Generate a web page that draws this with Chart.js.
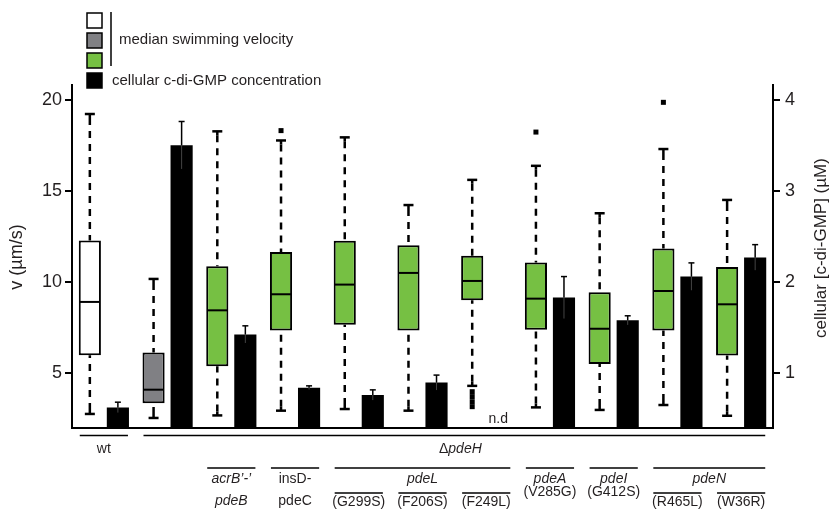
<!DOCTYPE html>
<html>
<head>
<meta charset="utf-8">
<script src="https://cdn.jsdelivr.net/npm/chart.js@4.4.1/dist/chart.umd.min.js"></script>
<style>
  html, body { margin: 0; padding: 0; background: #fff; }
  #wrap { width: 829px; height: 512px; position: relative; }
</style>
</head>
<body>
<div id="wrap"><canvas id="chart"></canvas></div>
<script>
// strains, in plot order
const categories = ['wt', 'ΔpdeH', "acrB'-' pdeB", 'insD-pdeC', 'pdeL G299S', 'pdeL F206S',
  'pdeL F249L', 'pdeA V285G', 'pdeI G412S', 'pdeN R465L', 'pdeN W36R'];

// swimming velocity box plots (µm/s)
const whiskerLow  = [2.77, 2.55, 2.69, 2.95, 3.04, 2.95, 4.31, 3.13, 2.99, 3.26, 2.67];
const q1          = [5.99, 3.35, 5.39, 7.35, 7.66, 7.35, 9.00, 7.39, 5.51, 7.35, 5.97];
const median      = [8.91, 4.10, 8.45, 9.33, 9.86, 10.50, 10.06, 9.09, 7.44, 9.51, 8.78];
const q3          = [12.28, 6.14, 10.87, 11.64, 12.26, 12.02, 11.44, 11.07, 9.44, 11.84, 10.83];
const whiskerHigh = [19.21, 10.17, 18.26, 17.76, 17.93, 14.22, 15.60, 16.37, 13.77, 17.29, 14.50];
const outliers    = [[], [], [], [18.3], [], [], [3.99, 3.72, 3.44, 3.17], [18.22], [], [19.85], []];

// cellular c-di-GMP (µM), null = not determined
const concentration    = [0.626, 3.50, 1.426, 0.842, 0.762, 0.898, null, 1.83, 1.58, 2.06, 2.27];
const concentrationErr = [0.057, 0.26, 0.094, 0.02, 0.056, 0.082, null, 0.23, 0.05, 0.15, 0.14];

const leftTicks = [5, 10, 15, 20];
const rightTicks = [1, 2, 3, 4];

const FONT = "'Liberation Sans', Arial, sans-serif";
const TEXT = '#231f20';
const GREEN = '#76c043';
const GRAY = '#808084';
const boxColors = categories.map((c, i) => i === 0 ? '#ffffff' : i === 1 ? GRAY : GREEN);

Chart.defaults.font.family = FONT;
Chart.defaults.color = TEXT;

function catCenter(chart, i) {
  return chart.scales.x.getPixelForValue(i);
}

// left edge of the box and right edge of the bar for a category
function spanOf(chart, from, to) {
  const b0 = chart.getDatasetMeta(0).data[from];
  const b1 = chart.getDatasetMeta(0).data[to];
  const left = b0.x - b0.width / 2 + 1;
  const right = 2 * catCenter(chart, to) - b1.x + b1.width / 2 - 1;
  return [left, right];
}

function hline(ctx, x0, x1, y) {
  ctx.beginPath();
  ctx.moveTo(x0, y);
  ctx.lineTo(x1, y);
  ctx.stroke();
}

const extras = {
  id: 'extras',
  afterDatasetsDraw(chart) {
    const ctx = chart.ctx;
    const y = chart.scales.y;
    const y2 = chart.scales.y2;
    ctx.save();
    ctx.strokeStyle = '#000';
    ctx.fillStyle = '#000';

    // whiskers, caps, medians and outliers
    chart.getDatasetMeta(0).data.forEach((el, i) => {
      const x = el.x;
      const hw = el.width / 2;
      const yHi = y.getPixelForValue(whiskerHigh[i]);
      const yLo = y.getPixelForValue(whiskerLow[i]);
      ctx.lineWidth = 2.5;
      ctx.setLineDash([7, 6]);
      ctx.beginPath();
      ctx.moveTo(x, yHi + 4);
      ctx.lineTo(x, y.getPixelForValue(q3[i]));
      ctx.moveTo(x, yLo - 4);
      ctx.lineTo(x, y.getPixelForValue(q1[i]));
      ctx.stroke();
      ctx.setLineDash([]);
      ctx.beginPath();
      ctx.moveTo(x, yHi); ctx.lineTo(x, yHi + 4);
      ctx.moveTo(x, yLo); ctx.lineTo(x, yLo - 4);
      ctx.stroke();
      hline(ctx, x - 5, x + 5, yHi);
      hline(ctx, x - 5, x + 5, yLo);
      ctx.lineWidth = 2;
      hline(ctx, x - hw + 1, x + hw - 1, y.getPixelForValue(median[i]));
      outliers[i].forEach(v => {
        ctx.fillRect(x - 2.5, y.getPixelForValue(v) - 2.5, 5, 5);
      });
    });

    // error bars on the c-di-GMP bars
    chart.getDatasetMeta(1).data.forEach((el, i) => {
      if (concentration[i] === null) return;
      const x = el.x;
      const yv = y2.getPixelForValue(concentration[i]);
      const yt = y2.getPixelForValue(concentration[i] + concentrationErr[i]);
      const yb = y2.getPixelForValue(concentration[i] - concentrationErr[i]);
      ctx.lineWidth = 1;
      ctx.strokeStyle = '#444';
      ctx.beginPath();
      ctx.moveTo(x, yv);
      ctx.lineTo(x, yb);
      ctx.stroke();
      ctx.strokeStyle = '#000';
      ctx.lineWidth = 1.5;
      ctx.beginPath();
      ctx.moveTo(x, yv);
      ctx.lineTo(x, yt);
      ctx.stroke();
      hline(ctx, x - 3, x + 3, yt);
    });

    // n.d marker where no concentration was measured
    concentration.forEach((v, i) => {
      if (v !== null) return;
      const x = 2 * catCenter(chart, i) - chart.getDatasetMeta(0).data[i].x;
      ctx.fillStyle = TEXT;
      ctx.font = '14px ' + FONT;
      ctx.textAlign = 'center';
      ctx.textBaseline = 'middle';
      ctx.fillText('n.d', x - 2, 419);
    });
    ctx.restore();
  },
  afterDraw(chart) {
    const ctx = chart.ctx;
    const area = chart.chartArea;
    ctx.save();

    // axis titles
    ctx.fillStyle = TEXT;
    ctx.textAlign = 'center';
    ctx.textBaseline = 'middle';
    ctx.save();
    ctx.translate(17, 257);
    ctx.rotate(-Math.PI / 2);
    ctx.font = '18px ' + FONT;
    ctx.fillText('v (µm/s)', 0, 0);
    ctx.restore();
    ctx.save();
    ctx.translate(area.right + 48, 248);
    ctx.rotate(-Math.PI / 2);
    ctx.font = '17px ' + FONT;
    ctx.fillText('cellular [c-di-GMP] (µM)', 0, 0);
    ctx.restore();

    // legend
    const swatches = ['#ffffff', GRAY, GREEN, '#000000'];
    ctx.lineWidth = 1.5;
    ctx.strokeStyle = '#000';
    swatches.forEach((c, k) => {
      ctx.fillStyle = c;
      ctx.fillRect(87, 13 + k * 20, 15, 15);
      ctx.strokeRect(87, 13 + k * 20, 15, 15);
    });
    ctx.beginPath();
    ctx.moveTo(111, 12);
    ctx.lineTo(111, 66);
    ctx.stroke();
    ctx.fillStyle = TEXT;
    ctx.textAlign = 'left';
    ctx.font = '15px ' + FONT;
    ctx.fillText('median swimming velocity', 119, 40);
    ctx.fillText('cellular c-di-GMP concentration', 112, 81);

    // strain annotations under the axis
    ctx.lineWidth = 1.5;
    ctx.strokeStyle = '#000';
    const lineRow = (from, to, yy) => {
      const [l, r] = spanOf(chart, from, to);
      hline(ctx, l, r, yy);
      return (l + r) / 2;
    };
    const label = (txt, x, yy, italic) => {
      ctx.font = (italic ? 'italic ' : '') + '14px ' + FONT;
      ctx.textAlign = 'center';
      ctx.fillText(txt, x, yy);
    };

    const cWt = lineRow(0, 0, 435.5);
    const cDel = lineRow(1, 10, 435.5);
    label('wt', cWt, 449, false);
    // ΔpdeH: upright delta, italic gene name
    ctx.font = '14px ' + FONT;
    const wD = ctx.measureText('Δ').width;
    ctx.font = 'italic 14px ' + FONT;
    const wG = ctx.measureText('pdeH').width;
    const x0 = cDel + 6 - (wD + wG) / 2;
    ctx.textAlign = 'left';
    ctx.font = '14px ' + FONT;
    ctx.fillText('Δ', x0, 449);
    ctx.font = 'italic 14px ' + FONT;
    ctx.fillText('pdeH', x0 + wD, 449);

    const r2 = 468, t2 = 479.5, r3 = 493, t3 = 501;
    label('acrB’-’', lineRow(2, 2, r2), t2, true);
    label('pdeB', catCenter(chart, 2), t3, true);
    label('insD-', lineRow(3, 3, r2), t2, false);
    label('pdeC', catCenter(chart, 3), t3, false);
    label('pdeL', lineRow(4, 6, r2), t2, true);
    label('(G299S)', lineRow(4, 4, r3), t3 + 1, false);
    label('(F206S)', lineRow(5, 5, r3), t3 + 1, false);
    label('(F249L)', lineRow(6, 6, r3), t3 + 1, false);
    label('pdeA', lineRow(7, 7, r2), t2, true);
    label('(V285G)', catCenter(chart, 7), 492.5, false);
    label('pdeI', lineRow(8, 8, r2), t2, true);
    label('(G412S)', catCenter(chart, 8), 492.5, false);
    label('pdeN', lineRow(9, 10, r2), t2, true);
    label('(R465L)', lineRow(9, 9, r3), t3 + 1, false);
    label('(W36R)', lineRow(10, 10, r3), t3 + 1, false);

    ctx.restore();
  }
};

new Chart(document.getElementById('chart').getContext('2d'), {
  type: 'bar',
  data: {
    labels: categories,
    datasets: [
      {
        label: 'median swimming velocity',
        data: q1.map((v, i) => [v, q3[i]]),
        yAxisID: 'y',
        backgroundColor: boxColors,
        borderColor: '#000',
        borderWidth: 2,
        borderSkipped: false,
        categoryPercentage: 0.88,
        barPercentage: 0.79
      },
      {
        label: 'cellular c-di-GMP concentration',
        data: concentration,
        yAxisID: 'y2',
        backgroundColor: '#000',
        borderWidth: 0,
        categoryPercentage: 0.88,
        barPercentage: 0.79
      }
    ]
  },
  options: {
    responsive: true,
    maintainAspectRatio: false,
    animation: false,
    layout: { padding: { top: 85, left: 0, right: 0, bottom: 0 } },
    plugins: {
      legend: { display: false },
      tooltip: { enabled: false }
    },
    scales: {
      x: {
        grid: { display: false },
        ticks: { display: false },
        border: { display: true, color: '#000', width: 2 },
        afterFit(scale) { scale.height = 84; }
      },
      y: {
        position: 'left',
        min: 2,
        max: 20.8,
        afterBuildTicks(scale) { scale.ticks = leftTicks.map(v => ({ value: v })); },
        grid: { display: true, drawOnChartArea: false, tickLength: 7, color: '#000', lineWidth: 2 },
        border: { display: true, color: '#000', width: 2 },
        ticks: { font: { size: 18 }, color: TEXT, padding: 3 },
        afterFit(scale) { scale.width = 72; }
      },
      y2: {
        position: 'right',
        min: 0.4,
        max: 4.16,
        afterBuildTicks(scale) { scale.ticks = rightTicks.map(v => ({ value: v })); },
        grid: { display: true, drawOnChartArea: false, tickLength: 7, color: '#000', lineWidth: 2 },
        border: { display: true, color: '#000', width: 2 },
        ticks: { font: { size: 18 }, color: TEXT, padding: 5 },
        afterFit(scale) { scale.width = 56; }
      }
    }
  },
  plugins: [extras]
});
</script>
</body>
</html>
